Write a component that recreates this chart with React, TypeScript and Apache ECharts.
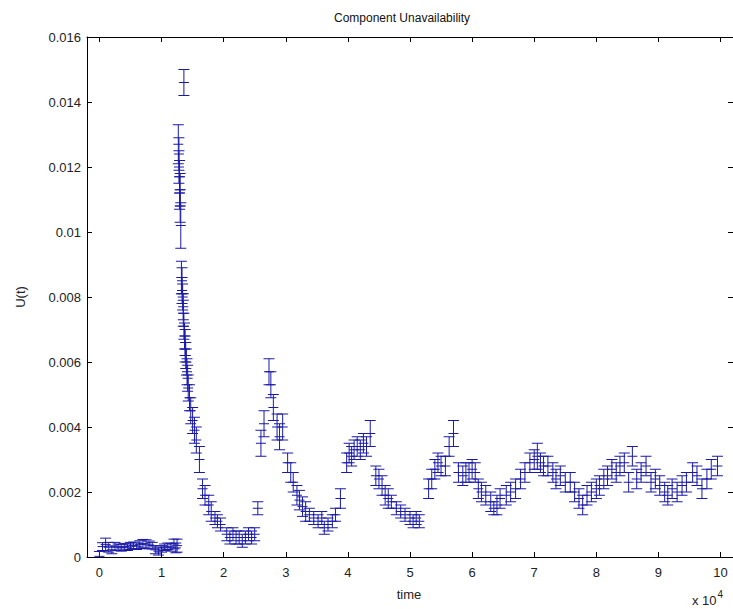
import React, { useEffect, useRef } from "react";
import * as echarts from "echarts";

// time in units of 1e4
const times = [
  0.0, 0.05, 0.1, 0.15, 0.2, 0.25, 0.3, 0.35, 0.4, 0.45, 0.5, 0.55, 0.6, 0.65, 0.7, 0.75, 0.8, 0.85, 0.9, 0.95,
  1.0, 1.05, 1.1, 1.15, 1.2, 1.23, 1.25,
  1.27, 1.28, 1.28, 1.29, 1.29, 1.3, 1.3, 1.31, 1.36,
  1.32, 1.33, 1.33, 1.34, 1.35, 1.35, 1.36, 1.37, 1.38, 1.38, 1.39, 1.4, 1.41, 1.42, 1.43, 1.45, 1.47, 1.5, 1.53, 1.56,
  1.61, 1.66, 1.7, 1.76, 1.8, 1.86, 1.9, 1.95, 2.05, 2.1, 2.15, 2.2, 2.25, 2.3, 2.35, 2.4, 2.45, 2.5,
  2.55, 2.6, 2.65, 2.73, 2.76, 2.8, 2.86, 2.9, 2.95, 3.03, 3.08, 3.12, 3.18, 3.22, 3.27, 3.32, 3.38, 3.45,
  3.52, 3.58, 3.62, 3.68, 3.75, 3.8, 3.88, 3.98, 4.02, 4.06, 4.1, 4.15, 4.2, 4.25, 4.3, 4.36, 4.45, 4.5,
  4.55, 4.6, 4.65, 4.7, 4.78, 4.85, 4.92, 5.0, 5.05, 5.1, 5.15, 5.3, 5.35, 5.4, 5.45, 5.5, 5.57, 5.63,
  5.7, 5.78, 5.85, 5.9, 5.95, 6.0, 6.05, 6.1, 6.15, 6.22, 6.3, 6.35, 6.4, 6.45, 6.55, 6.62, 6.7, 6.78,
  6.85, 6.93, 7.0, 7.05, 7.1, 7.15, 7.22, 7.3, 7.35, 7.42, 7.5, 7.58, 7.65, 7.72, 7.78, 7.85, 7.92, 8.0,
  8.05, 8.12, 8.18, 8.25, 8.32, 8.38, 8.45, 8.52, 8.58, 8.65, 8.72, 8.8, 8.88, 8.95, 9.02, 9.1, 9.15, 9.22,
  9.3, 9.38, 9.45, 9.55, 9.62, 9.7, 9.78, 9.85, 9.95,
];

const unavailability = [
  0.00002, 0.00032, 0.00038, 0.0003, 0.00022, 0.00033, 0.0003, 0.00028, 0.00032, 0.0003, 0.00034, 0.00036, 0.00033, 0.00038, 0.00042, 0.0004, 0.00037, 0.00035, 0.00022, 0.00018,
  0.00025, 0.0003, 0.00033, 0.0003, 0.0004, 0.00028, 0.00035,
  0.0127, 0.0124, 0.012, 0.0117, 0.0112, 0.0113, 0.0108, 0.0102, 0.0146,
  0.0086, 0.0085, 0.0082, 0.008, 0.0077, 0.0075, 0.0071, 0.0068, 0.0066, 0.0064, 0.0062, 0.006, 0.0057, 0.0055, 0.0052, 0.0049, 0.0045, 0.0042, 0.0039, 0.0036,
  0.003, 0.0021, 0.0019, 0.0016, 0.0014, 0.0012, 0.0011, 0.001, 0.0007, 0.0006, 0.0007, 0.0006, 0.0006, 0.0005, 0.0006, 0.0007, 0.0006, 0.0007,
  0.0015, 0.0035, 0.0041, 0.0057, 0.0053, 0.0046, 0.004, 0.0037, 0.004, 0.0029, 0.0026, 0.0023, 0.0019, 0.00175, 0.00155, 0.0014, 0.0013, 0.0012,
  0.0011, 0.0012, 0.0009, 0.001, 0.0011, 0.0013, 0.0018, 0.0029, 0.0032, 0.0031, 0.0033, 0.0034, 0.0033, 0.0035, 0.0034, 0.0038, 0.0025, 0.0024,
  0.0022, 0.0019, 0.0018, 0.0017, 0.0015, 0.0014, 0.0013, 0.0012, 0.0011, 0.0012, 0.0011, 0.0021, 0.0024, 0.0027, 0.0029, 0.0028, 0.0028, 0.0034,
  0.0038, 0.0026, 0.0025, 0.0026, 0.0026, 0.0027, 0.0026, 0.0021, 0.002, 0.0019, 0.0017, 0.0015, 0.0016, 0.0018, 0.0019, 0.002, 0.0021, 0.0024,
  0.0026, 0.0029, 0.003, 0.0031, 0.0029, 0.0028, 0.0028, 0.0026, 0.0024, 0.0025, 0.0023, 0.0023, 0.002, 0.0018, 0.0016, 0.0019, 0.002, 0.0021,
  0.0022, 0.0024, 0.0025, 0.0027, 0.0026, 0.0028, 0.0029, 0.0023, 0.0031, 0.0024, 0.0026, 0.0028, 0.0023, 0.0024, 0.0022, 0.002, 0.0019, 0.0021,
  0.002, 0.0022, 0.0023, 0.0026, 0.0025, 0.0021, 0.0024, 0.0027, 0.0028,
];

const errors = [
  0.00015, 0.00012, 0.0002, 0.00015, 0.00012, 0.00012, 0.0001, 0.0001, 0.0001, 0.0001, 0.00011, 0.0001, 0.0001, 0.00012, 0.00012, 0.00013, 0.00012, 0.0001, 0.00012, 0.00012,
  0.0001, 0.0001, 0.0001, 0.00012, 0.00015, 0.00015, 0.0002,
  0.0006, 0.0005, 0.0005, 0.0005, 0.0005, 0.0005, 0.0005, 0.0007, 0.0004,
  0.0005, 0.0004, 0.0004, 0.0004, 0.0004, 0.0004, 0.0004, 0.0004, 0.0004, 0.0004, 0.0004, 0.0004, 0.0004, 0.0004, 0.0004, 0.0004, 0.0004, 0.0004, 0.0004, 0.0004,
  0.0004, 0.0003, 0.0003, 0.0003, 0.0003, 0.0002, 0.0002, 0.0002, 0.0002, 0.0002, 0.0002, 0.0002, 0.0002, 0.0002, 0.0002, 0.0002, 0.0002, 0.0002,
  0.0002, 0.0004, 0.0004, 0.0004, 0.0004, 0.0004, 0.0004, 0.0004, 0.0004, 0.0003, 0.0003, 0.0003, 0.0003, 0.0003, 0.0003, 0.0003, 0.0002, 0.0002,
  0.0002, 0.0002, 0.0002, 0.0002, 0.0002, 0.0002, 0.0003, 0.0003, 0.0003, 0.0003, 0.0003, 0.0003, 0.0003, 0.0003, 0.0003, 0.0004, 0.0003, 0.0003,
  0.0003, 0.0003, 0.0003, 0.0002, 0.0002, 0.0002, 0.0002, 0.0002, 0.0002, 0.0002, 0.0002, 0.0003, 0.0003, 0.0003, 0.0003, 0.0003, 0.0003, 0.0003,
  0.0004, 0.0003, 0.0003, 0.0003, 0.0003, 0.0003, 0.0003, 0.0003, 0.0003, 0.0003, 0.0003, 0.0002, 0.0003, 0.0003, 0.0003, 0.0003, 0.0003, 0.0003,
  0.0003, 0.0003, 0.0003, 0.0004, 0.0003, 0.0003, 0.0003, 0.0003, 0.0003, 0.0003, 0.0003, 0.0003, 0.0003, 0.0003, 0.0003, 0.0003, 0.0003, 0.0003,
  0.0003, 0.0003, 0.0003, 0.0003, 0.0003, 0.0003, 0.0003, 0.0003, 0.0003, 0.0003, 0.0003, 0.0003, 0.0003, 0.0003, 0.0003, 0.0003, 0.0003, 0.0003,
  0.0003, 0.0003, 0.0003, 0.0003, 0.0003, 0.0003, 0.0003, 0.0003, 0.0003,
];

const xTicks = [0, 1, 2, 3, 4, 5, 6, 7, 8, 9, 10];
const yTicks = [0, 0.002, 0.004, 0.006, 0.008, 0.01, 0.012, 0.014, 0.016];

const TITLE = "Component Unavailability";
const X_NAME = "time";
const Y_NAME = "U(t)";

const FONT = "'Liberation Sans', Arial, sans-serif";
const BAR_COLOR = "#1a1aa8";

export default function App() {
  const ref = useRef<HTMLDivElement>(null);

  useEffect(() => {
    if (!ref.current) return;
    const chart = echarts.init(ref.current, undefined, { renderer: "svg" });

    const data = times.map((t, i) => [t, unavailability[i], errors[i]]);

    const gridLeft = 87;
    const gridTop = 37;
    const gridWidth = 648;
    const gridHeight = 520;

    const axisLineStyle = { color: "#000", width: 1 };

    const option: any = {
      animation: false,
      backgroundColor: "#fff",
      grid: { left: gridLeft, top: gridTop, width: gridWidth, height: gridHeight, containLabel: false },
      xAxis: [
        {
          type: "value",
          position: "bottom",
          min: -0.2,
          max: 10.2,
          axisLine: { show: true, onZero: false, lineStyle: axisLineStyle },
          axisTick: { show: true, inside: true, length: 5, customValues: xTicks, lineStyle: axisLineStyle },
          axisLabel: {
            show: true,
            customValues: xTicks,
            margin: 9,
            color: "#222",
            fontFamily: FONT,
            fontSize: 13,
            formatter: (v: number) => String(Math.round(v)),
          },
          splitLine: { show: false },
        },
        {
          type: "value",
          position: "top",
          min: -0.2,
          max: 10.2,
          axisLine: { show: true, onZero: false, lineStyle: axisLineStyle },
          axisTick: { show: true, inside: true, length: 5, customValues: xTicks, lineStyle: axisLineStyle },
          axisLabel: { show: false },
          splitLine: { show: false },
        },
      ],
      yAxis: [
        {
          type: "value",
          position: "left",
          min: 0,
          max: 0.016,
          interval: 0.002,
          axisLine: { show: true, onZero: false, lineStyle: axisLineStyle },
          axisTick: { show: true, inside: true, length: 5, lineStyle: axisLineStyle },
          axisLabel: {
            show: true,
            margin: 6,
            color: "#222",
            fontFamily: FONT,
            fontSize: 13,
            formatter: (v: number) => String(parseFloat(v.toFixed(4))),
          },
          splitLine: { show: false },
        },
        {
          type: "value",
          position: "right",
          min: 0,
          max: 0.016,
          interval: 0.002,
          axisLine: { show: true, onZero: false, lineStyle: axisLineStyle },
          axisTick: { show: true, inside: true, length: 5, lineStyle: axisLineStyle },
          axisLabel: { show: false },
          splitLine: { show: false },
        },
      ],
      series: [
        {
          type: "custom",
          xAxisIndex: 0,
          yAxisIndex: 0,
          clip: true,
          encode: { x: 0, y: 1 },
          data,
          renderItem: (params: any, api: any) => {
            const x = api.value(0);
            const y = api.value(1);
            const e = api.value(2);
            const top = api.coord([x, y + e]);
            const bot = api.coord([x, y - e]);
            const c = api.coord([x, y]);
            const w = 5.5;
            const style = { stroke: BAR_COLOR, lineWidth: 1, fill: "none" };
            return {
              type: "group",
              children: [
                { type: "line", shape: { x1: top[0], y1: top[1], x2: bot[0], y2: bot[1] }, style },
                { type: "line", shape: { x1: top[0] - w, y1: top[1], x2: top[0] + w, y2: top[1] }, style },
                { type: "line", shape: { x1: bot[0] - w, y1: bot[1], x2: bot[0] + w, y2: bot[1] }, style },
                { type: "line", shape: { x1: c[0] - 5, y1: c[1], x2: c[0] + 5, y2: c[1] }, style },
              ],
            };
          },
        },
      ],
      graphic: [
        {
          type: "text",
          left: gridLeft + gridWidth / 2 - 77,
          top: 12,
          style: { text: TITLE, fontFamily: FONT, fontSize: 12, fill: "#111" },
        },
        {
          type: "text",
          x: 20,
          y: gridTop + gridHeight / 2,
          rotation: Math.PI / 2,
          style: {
            text: Y_NAME,
            fontFamily: FONT,
            fontSize: 13,
            fill: "#222",
            align: "center",
            verticalAlign: "middle",
          },
        },
        {
          type: "text",
          x: gridLeft + gridWidth / 2 - 2,
          y: 594,
          style: {
            text: X_NAME,
            fontFamily: FONT,
            fontSize: 13,
            fill: "#222",
            align: "center",
            verticalAlign: "middle",
          },
        },
        {
          type: "text",
          x: 692,
          y: 589,
          style: {
            text: "{b|x 10}{s|4}",
            rich: {
              b: { fontFamily: FONT, fontSize: 13, fill: "#222", verticalAlign: "bottom" },
              s: { fontFamily: FONT, fontSize: 10, fill: "#222", verticalAlign: "top", padding: [0, 0, 8, 1] },
            },
          },
        },
      ],
    };

    chart.setOption(option);
    return () => chart.dispose();
  }, []);

  return (
    <div
      ref={ref}
      style={{ position: "absolute", left: 0, top: 0, width: 733, height: 609, background: "#fff" }}
    />
  );
}
